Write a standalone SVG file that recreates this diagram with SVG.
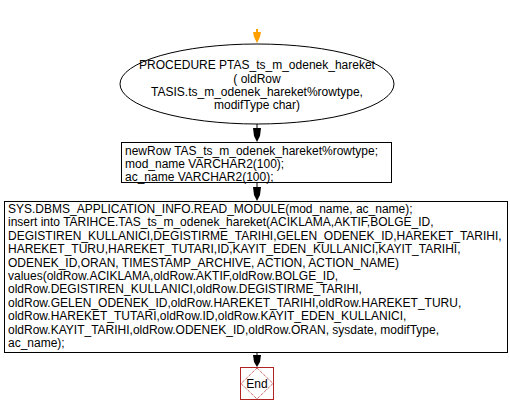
<svg xmlns="http://www.w3.org/2000/svg" width="510" height="414" viewBox="0 0 510 414">
<style>
text{font-family:"Liberation Sans",Arial,sans-serif;font-size:12px;fill:#000}
.c{text-anchor:middle}
.shape{fill:#fff;stroke:#000;stroke-width:1}
.line{stroke:#000;stroke-width:1;fill:none}
</style>
<rect width="510" height="414" fill="#fff"/>
<g id="connectors">
<polygon points="256,29 258,29 258,32 261,32 260,37 257,43 254,37 253,32 256,32" fill="#ffa000"/>
<line class="line" x1="257" y1="124" x2="257" y2="130"/>
<polygon points="253,128 261,128 260,136 257,142 254,136" fill="#000"/>
<line class="line" x1="257" y1="182" x2="257" y2="188"/>
<polygon points="253,187 261,187 260,195 257,201 254,195" fill="#000"/>
<line class="line" x1="257" y1="353" x2="257" y2="356"/>
<polygon points="253,355 261,355 260,362 257,367 254,362" fill="#000"/>
</g>
<g id="start">
<ellipse class="shape" cx="257" cy="84" rx="137" ry="40"/>
<text class="c" x="257" y="69">PROCEDURE PTAS_ts_m_odenek_hareket</text>
<text class="c" x="257" y="83">( oldRow</text>
<text class="c" x="257" y="96">TASIS.ts_m_odenek_hareket%rowtype,</text>
<text class="c" x="257" y="109">modifType char)</text>
</g>
<g id="decl">
<rect class="shape" x="121.5" y="142.5" width="270" height="40"/>
<text x="125" y="155">newRow TAS_ts_m_odenek_hareket%rowtype;</text>
<text x="125" y="168">mod_name VARCHAR2(100);</text>
<text x="125" y="181">ac_name VARCHAR2(100);</text>
</g>
<g id="body">
<rect class="shape" x="4.5" y="201.5" width="503" height="151"/>
<text x="8" y="213">SYS.DBMS_APPLICATION_INFO.READ_MODULE(mod_name, ac_name);</text>
<text x="8" y="226.4">insert into TARIHCE.TAS_ts_m_odenek_hareket(ACIKLAMA,AKTIF,BOLGE_ID,</text>
<text x="8" y="239.8">DEGISTIREN_KULLANICI,DEGISTIRME_TARIHI,GELEN_ODENEK_ID,HAREKET_TARIHI,</text>
<text x="8" y="253.2">HAREKET_TURU,HAREKET_TUTARI,ID,KAYIT_EDEN_KULLANICI,KAYIT_TARIHI,</text>
<text x="8" y="266.6">ODENEK_ID,ORAN, TIMESTAMP_ARCHIVE, ACTION, ACTION_NAME)</text>
<text x="8" y="280">values(oldRow.ACIKLAMA,oldRow.AKTIF,oldRow.BOLGE_ID,</text>
<text x="8" y="293.4">oldRow.DEGISTIREN_KULLANICI,oldRow.DEGISTIRME_TARIHI,</text>
<text x="8" y="306.8">oldRow.GELEN_ODENEK_ID,oldRow.HAREKET_TARIHI,oldRow.HAREKET_TURU,</text>
<text x="8" y="320.2">oldRow.HAREKET_TUTARI,oldRow.ID,oldRow.KAYIT_EDEN_KULLANICI,</text>
<text x="8" y="333.6">oldRow.KAYIT_TARIHI,oldRow.ODENEK_ID,oldRow.ORAN, sysdate, modifType,</text>
<text x="8" y="347">ac_name);</text>
</g>
<g id="end">
<rect x="240.5" y="367.5" width="33" height="32" fill="#fff" stroke="#b22222" stroke-width="1"/>
<polygon points="257,368 273,383.5 257,399 241,383.5" fill="none" stroke="#b22222" stroke-width="1" stroke-dasharray="1,1"/>
<text class="c" x="257" y="388">End</text>
</g>
</svg>
